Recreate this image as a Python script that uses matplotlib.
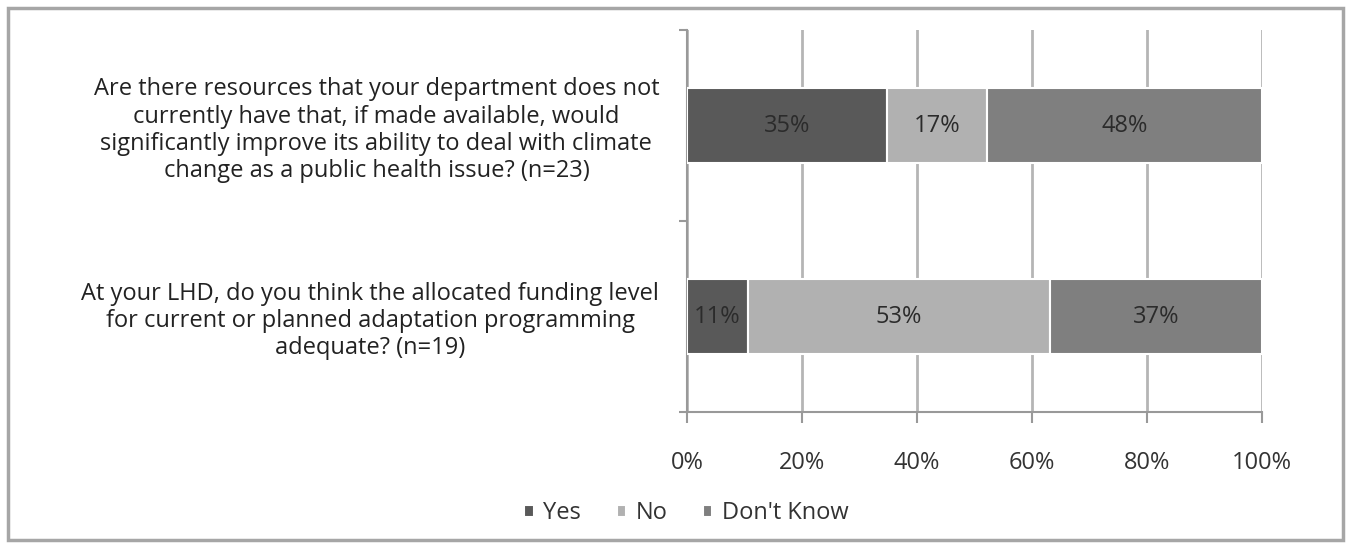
import matplotlib.pyplot as plt
from matplotlib.patches import Rectangle

plt.rcParams['font.family'] = ['Open Sans', 'DejaVu Sans']

# survey questions (bottom to top in the plot)
questions = [
    "At your LHD, do you think the allocated funding level\n"
    "for current or planned adaptation programming\n"
    "adequate? (n=19)",
    "Are there resources that your department does not\n"
    "currently have that, if made available, would\n"
    "significantly improve its ability to deal with climate\n"
    "change as a public health issue? (n=23)",
]
series = ["Yes", "No", "Don't Know"]
yes_pct = [10.53, 34.78]
no_pct = [52.63, 17.39]
dont_know_pct = [36.84, 47.83]
colors = ["#595959", "#b1b1b1", "#7f7f7f"]

fs = 17

fig = plt.figure(figsize=(13.51, 5.44), dpi=100)
ax = fig.add_axes([0.5085, 0.2426, 0.4256, 0.7022])

ypos = [0, 1]
left = [0, 0]
for name, vals, col in zip(series, [yes_pct, no_pct, dont_know_pct], colors):
    bars = ax.barh(ypos, vals, left=left, height=0.39, color=col,
                   edgecolor="white", linewidth=1.5, label=name, zorder=3)
    for b, v in zip(bars, vals):
        ax.text(b.get_x() + b.get_width() / 2, b.get_y() + b.get_height() / 2,
                f"{v:.0f}%", ha="center", va="center", fontsize=fs,
                color="#2b2b2b", zorder=4)
    left = [l + v for l, v in zip(left, vals)]

ax.set_xlim(0, 100)
ax.set_ylim(-0.5, 1.5)
ax.set_xticks(range(0, 101, 20))
ax.set_xticklabels([f"{t}%" for t in range(0, 101, 20)])
ax.set_yticks([-0.5, 0.5, 1.5])
ax.set_yticklabels([])
ax.set_yticks(ypos, minor=True)
ax.set_yticklabels(questions, minor=True, fontsize=fs, color="#222222",
                   multialignment="center", linespacing=1.17)
ax.tick_params(axis="y", which="minor", length=0, pad=20)
ax.tick_params(axis="y", which="major", length=6, color="#999999", width=1.5)
ax.tick_params(axis="x", length=8, color="#999999", width=1.5, pad=20,
               labelsize=fs, labelcolor="#333333")

ax.grid(axis="x", color="#b5b5b5", linewidth=2, zorder=0)
for side in ["top", "right"]:
    ax.spines[side].set_visible(False)
for side in ["left", "bottom"]:
    ax.spines[side].set_color("#999999")
    ax.spines[side].set_linewidth(1.5)

fig.legend(loc="center", bbox_to_anchor=(0.508, 0.057), ncol=3, frameon=False,
           fontsize=fs, handlelength=0.4, handleheight=0.4, handletextpad=0.4,
           columnspacing=1.5, labelcolor="#333333")

# outer chart border
fig.patches.append(Rectangle((0.006, 0.007), 0.988, 0.978, transform=fig.transFigure,
                             fill=False, edgecolor="#a6a6a6", linewidth=2.5))

fig.savefig("out.png", dpi=100, facecolor="white")
